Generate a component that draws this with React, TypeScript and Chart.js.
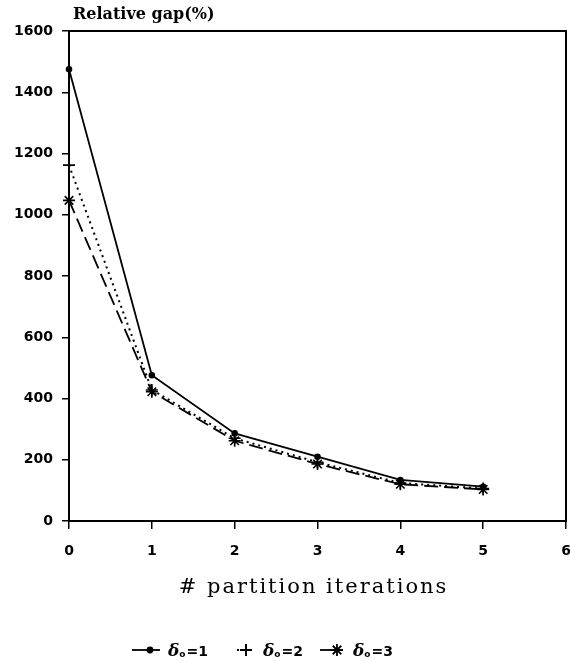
import React, { useEffect, useRef } from "react";
import { Chart, registerables } from "chart.js";
import { drawPoint } from "chart.js/helpers";

Chart.register(...registerables);

// ---- data ----
const iterations = [0, 1, 2, 3, 4, 5];
const gapDelta1 = [1475, 476, 286, 210, 134, 112];
const gapDelta2 = [1162, 428, 270, 192, 124, 106];
const gapDelta3 = [1047, 422, 262, 186, 120, 103];
const deltaValues = ["1", "2", "3"];
const xTickValues = [0, 1, 2, 3, 4, 5, 6];
const yTickValues = [0, 200, 400, 600, 800, 1000, 1200, 1400, 1600];
const yAxisTitle = "Relative gap(%)";
const xAxisTitle = "# partition iterations";

const W = 570;
const H = 661;

const pts = (vals: number[]) => iterations.map((x, i) => ({ x, y: vals[i] }));

const seriesStyles = [
  { dash: [] as number[], pointStyle: "circle", radius: 2.5, width: 1.8 },
  { dash: [2, 4], pointStyle: "cross", radius: 6, width: 2 },
  { dash: [14, 6], pointStyle: "star", radius: 6, width: 1.8 },
];

const framePlugin = {
  id: "frameAndText",
  afterDraw(chart: any) {
    const { ctx, chartArea } = chart;
    const { left, right, top, bottom } = chartArea;
    ctx.save();
    // frame
    ctx.strokeStyle = "#000";
    ctx.lineWidth = 2;
    ctx.strokeRect(left, top, right - left, bottom - top);

    // y title
    ctx.fillStyle = "#000";
    ctx.font = "bold 16px 'DejaVu Serif'";
    ctx.textAlign = "left";
    ctx.textBaseline = "alphabetic";
    ctx.fillText(yAxisTitle, left + 4, top - 12);

    // x title
    ctx.font = "21px 'DejaVu Serif'";
    (ctx as any).letterSpacing = "2px";
    ctx.textAlign = "center";
    ctx.fillText(xAxisTitle, (left + right) / 2 - 4, bottom + 72);
    (ctx as any).letterSpacing = "0px";

    // legend
    const ly = 650;
    const items = [
      { lineFrom: 132, lineTo: 160, pointAt: 150, textAt: 168 },
      { lineFrom: 237, lineTo: 255, pointAt: 246, textAt: 263 },
      { lineFrom: 320, lineTo: 336, pointAt: 337, textAt: 353 },
    ];
    items.forEach((it, i) => {
      const st = seriesStyles[i];
      ctx.save();
      ctx.strokeStyle = "#000";
      ctx.lineWidth = st.width;
      ctx.setLineDash(i === 2 ? [] : st.dash);
      ctx.beginPath();
      ctx.moveTo(it.lineFrom, ly);
      ctx.lineTo(it.lineTo, ly);
      ctx.stroke();
      ctx.setLineDash([]);
      ctx.fillStyle = "#000";
      drawPoint(ctx, { pointStyle: st.pointStyle, radius: st.radius, borderWidth: 1.6, rotation: 0 } as any, it.pointAt, ly);
      ctx.restore();

      ctx.fillStyle = "#000";
      ctx.textAlign = "left";
      ctx.textBaseline = "alphabetic";
      let x = it.textAt;
      ctx.font = "bold italic 17px 'DejaVu Serif'";
      ctx.fillText("δ", x, ly + 6);
      x += ctx.measureText("δ").width;
      ctx.font = "bold 9px 'DejaVu Sans'";
      ctx.fillText("o", x, ly + 7);
      x += ctx.measureText("o").width + 1;
      ctx.font = "bold 14px 'DejaVu Sans'";
      ctx.fillText("=" + deltaValues[i], x, ly + 6);
    });
    ctx.restore();
  },
};

export default function App() {
  const ref = useRef<HTMLCanvasElement>(null);
  useEffect(() => {
    if (!ref.current) return;
    const datasets = [gapDelta1, gapDelta2, gapDelta3].map((vals, i) => {
      const st = seriesStyles[i];
      return {
        label: "δo=" + deltaValues[i],
        data: pts(vals),
        borderColor: "#000",
        backgroundColor: "#000",
        borderWidth: st.width,
        borderDash: st.dash,
        pointStyle: st.pointStyle,
        pointRadius: st.radius,
        pointBorderWidth: 1.6,
        pointBorderColor: "#000",
        pointBackgroundColor: "#000",
        tension: 0,
        fill: false,
        clip: false,
      };
    });
    const tickFont = { family: "'DejaVu Sans'", size: 14, weight: "bold" as const };
    const chart = new Chart(ref.current, {
      type: "line",
      data: { datasets },
      plugins: [framePlugin],
      options: {
        animation: false,
        responsive: false,
        devicePixelRatio: 1,
        layout: { autoPadding: false, padding: { top: 31, right: 4, left: 0, bottom: 0 } },
        plugins: { legend: { display: false }, tooltip: { enabled: false } },
        scales: {
          x: {
            type: "linear",
            min: 0,
            max: 6,
            afterBuildTicks: (s: any) => {
              s.ticks = xTickValues.map((v) => ({ value: v }));
            },
            ticks: { font: tickFont, color: "#000", padding: 14, maxRotation: 0, callback: (v: any) => String(v) },
            grid: { drawOnChartArea: false, drawTicks: true, tickLength: 8, color: "#000", lineWidth: 1.5 },
            border: { color: "#000", width: 2 },
            afterFit: (s: any) => {
              s.height = 140;
              s.paddingLeft = 0;
              s.paddingRight = 0;
            },
          },
          y: {
            type: "linear",
            min: 0,
            max: 1600,
            afterBuildTicks: (s: any) => {
              s.ticks = yTickValues.map((v) => ({ value: v }));
            },
            ticks: { font: tickFont, color: "#000", padding: 9, callback: (v: any) => String(v) },
            grid: { drawOnChartArea: false, drawTicks: true, tickLength: 7, color: "#000", lineWidth: 1.5 },
            border: { color: "#000", width: 2 },
            afterFit: (s: any) => {
              s.width = 69;
              s.paddingTop = 0;
              s.paddingBottom = 0;
            },
          },
        },
      } as any,
    });
    return () => chart.destroy();
  }, []);
  return (
    <div style={{ position: "fixed", top: 0, left: 0, width: W, height: H, background: "#fff" }}>
      <canvas ref={ref} width={W} height={H} style={{ display: "block" }} />
    </div>
  );
}
